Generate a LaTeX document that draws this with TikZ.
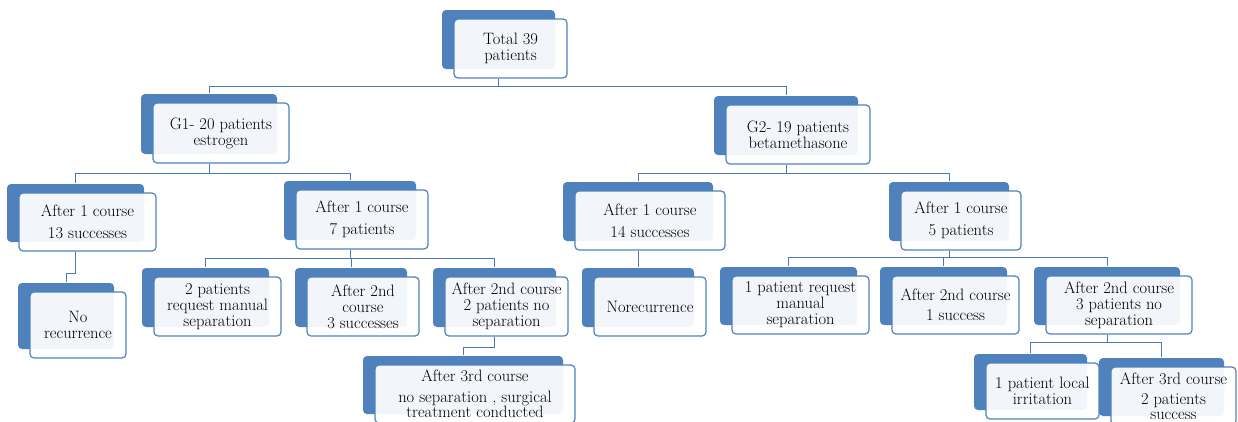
\documentclass[tikz,border=0pt]{standalone}
\usepackage{fontspec}
\usetikzlibrary{shadows}
\definecolor{boxblue}{HTML}{4F81BD}
\definecolor{linkblue}{HTML}{4A7AB5}
\begin{document}
\begin{tikzpicture}[x=1pt,y=-1pt,
  card/.style={draw=boxblue,line width=1.2pt,fill=white,fill opacity=.93,text opacity=1,
    rounded corners=4pt,inner sep=0pt,align=center,font=\fontsize{16.5}{16}\selectfont,
    copy shadow={shadow xshift=-12pt,shadow yshift=9pt,fill=boxblue,draw=none,opacity=1}},
  link/.style={draw=linkblue,line width=1pt}]
  \useasboundingbox (0,0) rectangle (1238,421);
  \clip (0,0) rectangle (1238,421);
  \node[card,minimum width=113,minimum height=59] (t) at (510.5,48.5) {Total 39\\patients};
  \node[card,minimum width=136,minimum height=60] (g1) at (221,133) {G1- 20 patients\\estrogen};
  \node[card,minimum width=144,minimum height=59] (g2) at (798,134.5) {G2- 19 patients\\betamethasone};
  \node[card,minimum width=137,minimum height=58] (a1) at (87.5,222) {After 1 course\\[6pt]13 successes};
  \node[card,minimum width=132,minimum height=59] (a2) at (362,219.5) {After 1 course\\[6pt]7 patients};
  \node[card,minimum width=96,minimum height=66] (a11) at (78,325) {No\\recurrence};
  \node[card,minimum width=127,minimum height=59] (b1) at (217.5,306.5) {2 patients\\request manual\\separation};
  \node[card,minimum width=112,minimum height=59] (b2) at (363,306.5) {After 2nd\\course\\3 successes};
  \node[card,minimum width=123,minimum height=59] (b3) at (506.5,306.5) {After 2nd course\\2 patients no\\separation};
  \node[card,minimum width=200,minimum height=58] (c1) at (475,394) {After 3rd course\\[5pt]no separation , surgical\\[-1pt]treatment conducted};
  \node[card,minimum width=150,minimum height=59] (d1) at (650,220.5) {After 1 course\\[6pt]14 successes};
  \node[card,minimum width=112,minimum height=59] (d11) at (650,306.5) {Norecurrence};
  \node[card,minimum width=120,minimum height=59] (d2) at (961,220.5) {After 1 course\\[6pt]5 patients};
  \node[card,minimum width=137,minimum height=58] (e1) at (800.5,305) {1 patient request\\manual\\separation};
  \node[card,minimum width=127,minimum height=58] (e2) at (955.5,305) {After 2nd course\\[4pt]1 success};
  \node[card,minimum width=146,minimum height=58] (e3) at (1119,305) {After 2nd course\\3 patients no\\separation};
  \node[card,minimum width=113,minimum height=56] (f1) at (1042.5,391) {1 patient local\\irritation};
  \node[card,minimum width=125,minimum height=58] (f2) at (1173.5,396) {After 3rd course\\[4pt]2 patients\\[-1pt]success};
  \draw[link] ([xshift=-12pt]t.south) -- ++(0,8) -| ([shift={(-12,-9)}]g1.north);
  \draw[link] ([xshift=-12pt]t.south) -- ++(0,8) -| ([shift={(-12,-9)}]g2.north);
  \draw[link] ([xshift=-12pt]g1.south) -- ++(0,10) -| ([shift={(-12,-9)}]a1.north);
  \draw[link] ([xshift=-12pt]g1.south) -- ++(0,10) -| ([shift={(-12,-9)}]a2.north);
  \draw[link] ([xshift=-12pt]g2.south) -- ++(0,9) -| ([shift={(-12,-9)}]d1.north);
  \draw[link] ([xshift=-12pt]g2.south) -- ++(0,9) -| ([shift={(-12,-9)}]d2.north);
  \draw[link] ([xshift=-12pt]a1.south) -- ++(0,22) -| ([shift={(-12,-9)}]a11.north);
  \draw[link] ([xshift=-12pt]a2.south) -- ++(0,9) -| ([shift={(-12,-9)}]b1.north);
  \draw[link] ([xshift=-12pt]a2.south) -- ++(0,9) -| ([shift={(-12,-9)}]b2.north);
  \draw[link] ([xshift=-12pt]a2.south) -- ++(0,9) -| ([shift={(-12,-9)}]b3.north);
  \draw[link] ([xshift=-12pt]b3.south) -- ++(0,11) -| ([shift={(-12,-9)}]c1.north);
  \draw[link] ([xshift=-12pt]d1.south) -- ([shift={(-12,-9)}]d11.north);
  \draw[link] ([xshift=-12pt]d2.south) -- ++(0,7) -| ([shift={(-12,-9)}]e1.north);
  \draw[link] ([xshift=-12pt]d2.south) -- ++(0,7) -| ([shift={(-12,-9)}]e2.north);
  \draw[link] ([xshift=-12pt]d2.south) -- ++(0,7) -| ([shift={(-12,-9)}]e3.north);
  \draw[link] ([xshift=-12pt]e3.south) -- ++(0,8) -| ([shift={(-12,-9)}]f1.north);
  \draw[link] ([xshift=-12pt]e3.south) -- ++(0,8) -| ([shift={(-12,-9)}]f2.north);
\end{tikzpicture}
\end{document}
